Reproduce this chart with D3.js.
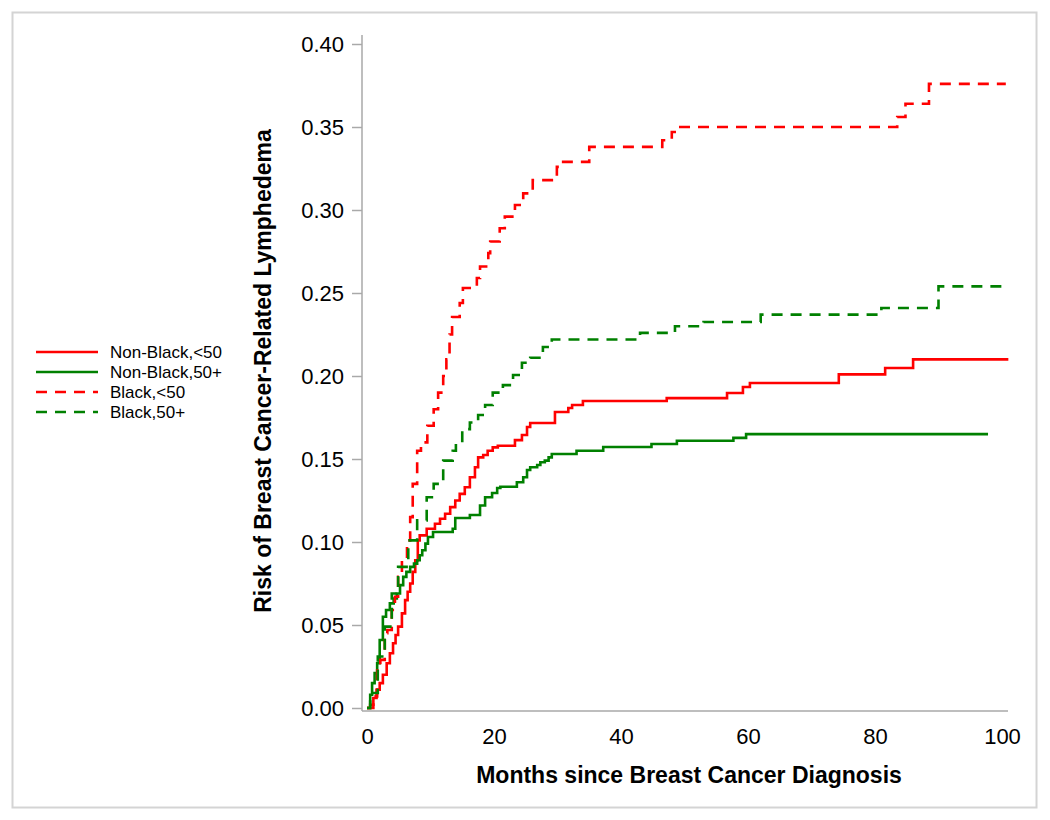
<!DOCTYPE html>
<html>
<head>
<meta charset="utf-8">
<script src="https://cdn.jsdelivr.net/npm/d3@7"></script>
<style>
  html, body { margin: 0; padding: 0; background: #fff; }
  svg { display: block; font-family: Arial, "Liberation Sans", sans-serif; }
</style>
</head>
<body>
<div id="chart"></div>
<script>
// ---------- data ----------
const seriesNames = ["Non-Black,<50", "Non-Black,50+", "Black,<50", "Black,50+"];

const nbYoungMonths = [0, 0.5, 1, 1.5, 2, 2.5, 3.1, 3.6, 4.1, 4.5, 4.9, 5.5, 6, 6.4, 6.8, 7.2, 7.6, 8, 8.3, 9.4, 10.7, 11.5, 12.3, 13.1, 13.9, 14.6, 15.4, 16.2, 17, 17.5, 18.3, 19, 19.8, 20.6, 23.3, 24.4, 25.2, 25.7, 29.6, 31.7, 32.3, 34, 47.2, 56.7, 59.2, 60.3, 74.3, 81.6, 86, 101];
const nbYoungRisk   = [0, 0.002, 0.006, 0.011, 0.015, 0.020, 0.027, 0.033, 0.039, 0.044, 0.049, 0.057, 0.065, 0.070, 0.075, 0.082, 0.089, 0.101, 0.104, 0.108, 0.111, 0.114, 0.117, 0.121, 0.125, 0.129, 0.133, 0.139, 0.145, 0.151, 0.1524, 0.155, 0.157, 0.158, 0.1614, 0.1645, 0.1693, 0.1717, 0.1783, 0.1807, 0.1825, 0.1849, 0.1867, 0.1898, 0.1934, 0.1958, 0.201, 0.2048, 0.210, 0.210];

const nbOldMonths = [0, 0.5, 0.8, 1.2, 1.6, 2, 2.5, 3, 3.6, 4.2, 4.7, 5.2, 5.7, 6.2, 6.8, 7.4, 7.9, 8.3, 8.7, 9.2, 9.6, 10.4, 13.5, 13.9, 16.2, 17.8, 18.6, 19.7, 20.5, 21, 23.6, 24.6, 25.2, 25.7, 26.8, 27.3, 28, 28.6, 29.1, 33, 37.2, 44.8, 48.8, 57.7, 59.7, 97.8];
const nbOldRisk   = [0, 0.008, 0.015, 0.021, 0.027, 0.041, 0.055, 0.059, 0.063, 0.066, 0.069, 0.074, 0.079, 0.082, 0.085, 0.087, 0.089, 0.092, 0.095, 0.099, 0.103, 0.106, 0.108, 0.1145, 0.1163, 0.122, 0.127, 0.1295, 0.1325, 0.1333, 0.136, 0.139, 0.1434, 0.145, 0.1464, 0.148, 0.149, 0.151, 0.153, 0.155, 0.1572, 0.159, 0.161, 0.1627, 0.165, 0.165];

const bYoungMonths = [0, 1, 1.6, 2.1, 2.8, 3.2, 3.9, 4.4, 4.9, 5.5, 6.3, 6.8, 7.2, 7.9, 8.5, 9.5, 10.5, 11.2, 12, 12.5, 13, 13.4, 14.6, 15.1, 17.3, 17.8, 19.1, 19.4, 20.9, 21.7, 23.3, 24.6, 26.1, 29.9, 30.5, 35, 46.5, 48, 48.9, 83.5, 84.8, 88.5, 100.6];
const bYoungRisk   = [0, 0.007, 0.025, 0.029, 0.045, 0.047, 0.059, 0.067, 0.079, 0.089, 0.101, 0.115, 0.135, 0.155, 0.16, 0.17, 0.18, 0.19, 0.20, 0.21, 0.225, 0.2355, 0.244, 0.253, 0.259, 0.266, 0.274, 0.281, 0.289, 0.296, 0.303, 0.310, 0.318, 0.326, 0.329, 0.338, 0.342, 0.347, 0.350, 0.356, 0.364, 0.376, 0.376];

const bOldMonths = [0, 0.5, 1.7, 2.8, 3.9, 4.9, 6.5, 7.9, 9.4, 10.5, 12, 13.5, 14, 15, 16.2, 17.5, 18.6, 19.8, 21.4, 23, 24.4, 25.7, 27.7, 29.1, 43, 48.5, 53, 62, 81, 90, 100.6];
const bOldRisk   = [0, 0.009, 0.031, 0.049, 0.069, 0.085, 0.101, 0.113, 0.127, 0.135, 0.149, 0.155, 0.16, 0.168, 0.172, 0.1765, 0.1825, 0.19, 0.1945, 0.2006, 0.208, 0.211, 0.2175, 0.222, 0.226, 0.230, 0.2325, 0.237, 0.241, 0.254, 0.254];

const xTicks = [0, 20, 40, 60, 80, 100];
const yTicks = [0, 0.05, 0.10, 0.15, 0.20, 0.25, 0.30, 0.35, 0.40];
const xTitle = "Months since Breast Cancer Diagnosis";
const yTitle = "Risk of Breast Cancer-Related Lymphedema";

// ---------- build ----------
const series = [
  { name: seriesNames[0], months: nbYoungMonths, risk: nbYoungRisk, color: "#ff0000", dash: null },
  { name: seriesNames[1], months: nbOldMonths,   risk: nbOldRisk,   color: "#008000", dash: null },
  { name: seriesNames[2], months: bYoungMonths,  risk: bYoungRisk,  color: "#ff0000", dash: "11,8" },
  { name: seriesNames[3], months: bOldMonths,    risk: bOldRisk,    color: "#008000", dash: "11,8" }
];

const W = 1050, H = 820;
const svg = d3.select("#chart").append("svg").attr("width", W).attr("height", H);

svg.append("rect").attr("x", 12.5).attr("y", 12.5).attr("width", 1024).attr("height", 795)
  .attr("fill", "#fff").attr("stroke", "#d4d4d4").attr("stroke-width", 2);

const x = d3.scaleLinear().domain([0, 100]).range([367, 1002]);
const y = d3.scaleLinear().domain([0, 0.4]).range([708, 44]);

const axisColor = "#a9a9a9";

// y axis
const gy = svg.append("g").attr("transform", "translate(362,0)")
  .call(d3.axisLeft(y).tickValues(yTicks).tickFormat(d3.format(".2f")).tickSize(10).tickPadding(8));
gy.select(".domain").remove();
gy.selectAll(".tick line").attr("stroke", axisColor).attr("stroke-width", 1.5);
gy.selectAll(".tick text").attr("font-size", 22).attr("fill", "#000").attr("font-family", "Arial, 'Liberation Sans', sans-serif");
svg.append("line").attr("x1", 362).attr("x2", 362).attr("y1", 35).attr("y2", 711)
  .attr("stroke", axisColor).attr("stroke-width", 1.5);

// x axis
const gx = svg.append("g").attr("transform", "translate(0,711)")
  .call(d3.axisBottom(x).tickValues(xTicks).tickFormat(d3.format("d")).tickSize(0).tickPadding(17));
gx.select(".domain").remove();
gx.selectAll(".tick text").attr("font-size", 22).attr("fill", "#000").attr("font-family", "Arial, 'Liberation Sans', sans-serif");
svg.append("line").attr("x1", 362).attr("x2", 1008).attr("y1", 711).attr("y2", 711)
  .attr("stroke", axisColor).attr("stroke-width", 1.5);

// titles
svg.append("text").attr("x", 689).attr("y", 783).attr("text-anchor", "middle")
  .attr("font-size", 23).attr("font-weight", "bold").text(xTitle);
svg.append("text").attr("transform", "translate(271,371) rotate(-90)").attr("text-anchor", "middle")
  .attr("font-size", 23).attr("font-weight", "bold").text(yTitle);

// curves
const line = d3.line().x(d => x(d[0])).y(d => y(d[1])).curve(d3.curveStepAfter);
series.forEach(s => {
  const pts = s.months.map((m, i) => [m, s.risk[i]]);
  svg.append("path").datum(pts).attr("d", line)
    .attr("fill", "none").attr("stroke", s.color).attr("stroke-width", 2.6)
    .attr("stroke-dasharray", s.dash);
});

// legend
const legY = [352, 372, 392, 412];
series.forEach((s, i) => {
  svg.append("line").attr("x1", 36).attr("x2", 98).attr("y1", legY[i]).attr("y2", legY[i])
    .attr("stroke", s.color).attr("stroke-width", 2.6).attr("stroke-dasharray", s.dash);
  svg.append("text").attr("x", 110).attr("y", legY[i]).attr("dy", "0.35em")
    .attr("font-size", 17).text(s.name);
});
</script>
</body>
</html>
